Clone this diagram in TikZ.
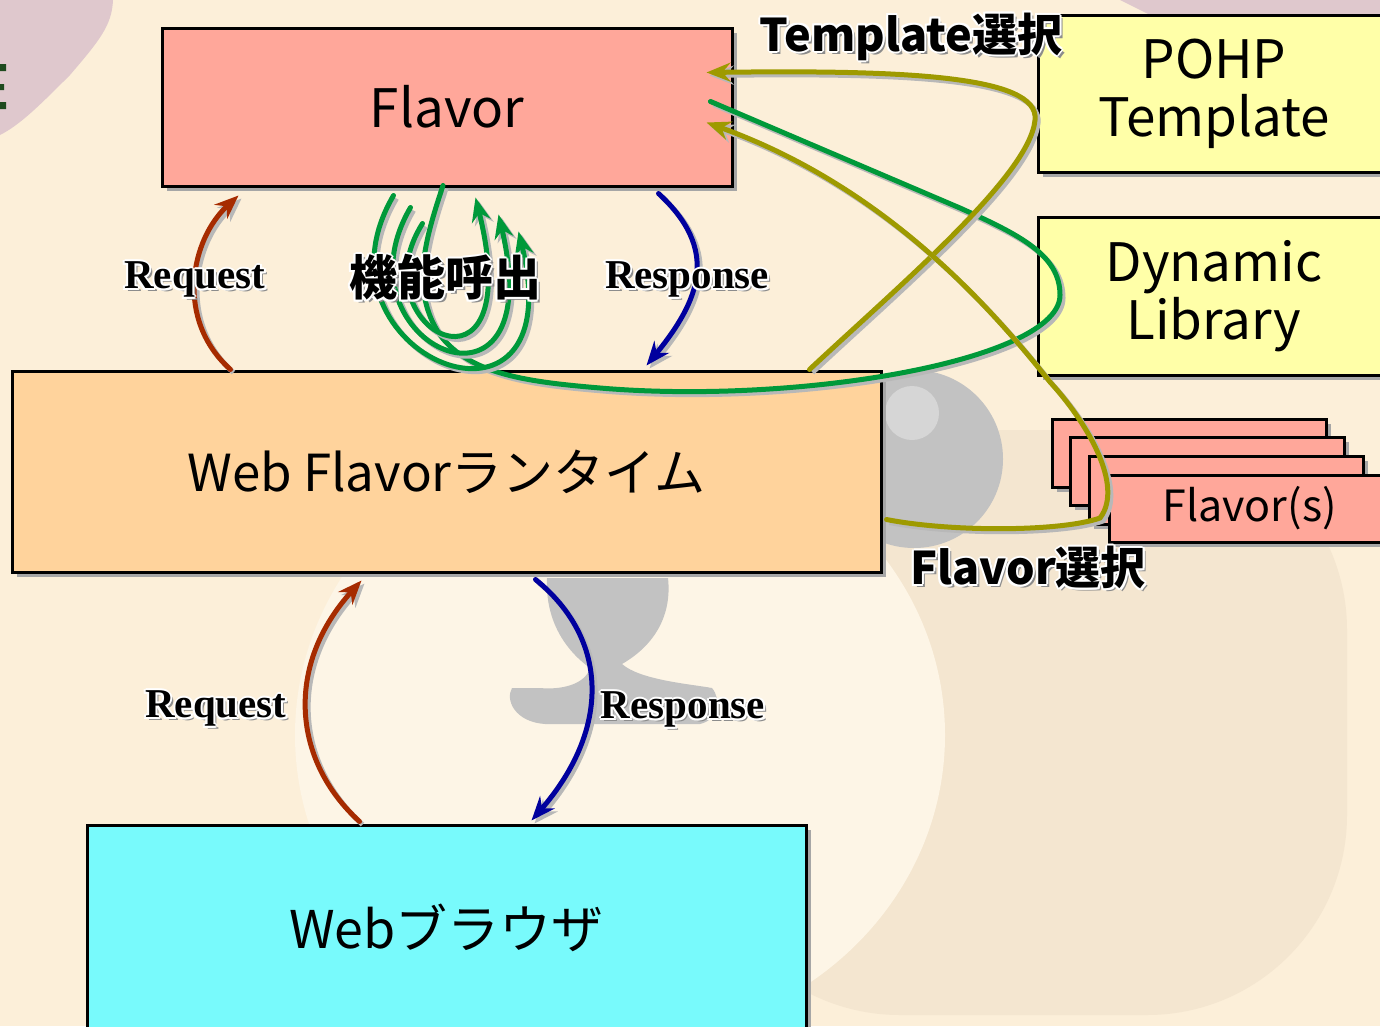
\documentclass[tikz,border=0pt]{standalone}
\usepackage{fontspec}
\usetikzlibrary{arrows.meta,shadows,calc}
\setmainfont{Liberation Serif}
\newfontfamily\jp{Noto Sans CJK JP}
\definecolor{bgc}{HTML}{FCEFD9}
\definecolor{bgdark}{HTML}{F4E6D0}
\definecolor{bglight}{HTML}{FDF5E6}
\definecolor{blob}{HTML}{DFC8CD}
\definecolor{egreen}{HTML}{1E4A1E}
\definecolor{sphere}{HTML}{C2C2C2}
\definecolor{sphhi}{HTML}{D6D6D6}
\definecolor{flv}{HTML}{FFA79A}
\definecolor{ylw}{HTML}{FFFFA8}
\definecolor{rtc}{HTML}{FFD39C}
\definecolor{cyn}{HTML}{78FAFC}
\definecolor{rqc}{HTML}{A62B00}
\definecolor{rsc}{HTML}{00009E}
\definecolor{grc}{HTML}{00993A}
\definecolor{olc}{HTML}{9E9A00}
\definecolor{shd}{HTML}{8C8C8C}
\newcommand\halo[1]{%
\rlap{\kern3pt\raisebox{-3pt}{\color{shd}#1}}%
\rlap{\kern-2pt\color{white}#1}%
\rlap{\kern2pt\color{white}#1}%
\rlap{\raisebox{2pt}{\color{white}#1}}%
\rlap{\raisebox{-2pt}{\color{white}#1}}%
\rlap{\kern1.5pt\raisebox{1.5pt}{\color{white}#1}}%
\rlap{\kern-1.5pt\raisebox{1.5pt}{\color{white}#1}}%
\rlap{\kern1.5pt\raisebox{-1.5pt}{\color{white}#1}}%
\rlap{\kern-1.5pt\raisebox{-1.5pt}{\color{white}#1}}%
#1}
\tikzset{
  blk/.style={draw=black, line width=3pt, inner sep=0pt, align=center,
    drop shadow={shadow xshift=5pt, shadow yshift=-5pt, fill=black!35, opacity=1},
    font=\jp\fontsize{53}{58}\selectfont},
  link/.style={line width=5pt, line cap=round,
    preaction={draw=black!28, line width=5pt, transform canvas={xshift=3pt,yshift=-3pt}}},
  arrowtip/.style={-{Stealth[length=24pt,width=19pt,inset=8pt]}},
  serlbl/.style={inner sep=0pt, font=\bfseries\fontsize{41}{48}\selectfont},
  jplbl/.style={inner sep=0pt, font=\jp\bfseries\fontsize{45}{52}\selectfont}
}
\begin{document}
\begin{tikzpicture}[x=1pt,y=-1pt]
\useasboundingbox (0,0) rectangle (1380,1026);
\clip (0,0) rectangle (1380,1026);
% background
\fill[bgc] (0,0) rectangle (1380,1026);
\fill[bgdark] (700,430) [rounded corners=200pt] -- (1347,430) -- (1347,1015) -- (700,1015) [sharp corners] -- cycle;
\fill[bglight] (620,735) ellipse[x radius=325, y radius=305];
\fill[blob] (0,0) -- (113,0) .. controls (112,25) and (100,40) .. (70,75) .. controls (40,105) and (20,125) .. (0,135) -- cycle;
\fill[blob] (1120,0) -- (1380,0) -- (1380,15) -- (1150,15) -- cycle;
\fill[egreen] (0,64) rectangle (6,71) (0,84) rectangle (4,90) (0,102) rectangle (6,109);
% sphere and stand
\fill[sphere] (914,459) circle[radius=89];
\fill[sphhi] (912,413) circle[radius=27];
\fill[sphere] (547,578) -- (668,578) .. controls (672,615) and (655,645) .. (622,664)
  .. controls (640,680) and (690,684) .. (712,688) .. controls (722,700) and (718,720) .. (700,724)
  -- (545,724) .. controls (515,722) and (505,700) .. (512,688) -- (540,688)
  .. controls (560,690) and (585,685) .. (590,668) .. controls (565,650) and (545,620) .. (547,578) -- cycle;
% boxes
\node[blk, fill=flv, minimum width=570pt, minimum height=158pt] (flavor) at (447,107) {Flavor};
\node[blk, fill=ylw, minimum width=352pt, minimum height=157pt] (pohp) at (1214,93.5) {POHP\\Template};
\node[blk, fill=ylw, minimum width=352pt, minimum height=158pt] (dynlib) at (1214,296) {Dynamic\\Library};
\node[blk, fill=rtc, minimum width=869pt, minimum height=201pt, font=\jp\fontsize{51}{58}\selectfont] (runtime) at (446.5,471.5) {Web Flavorランタイム};
\node[blk, fill=cyn, minimum width=719pt, minimum height=206pt, font=\jp\fontsize{52}{58}\selectfont] (browser) at (446.5,928) {Webブラウザ};
\node[blk, fill=flv, minimum width=274pt, minimum height=68pt] (fs1) at (1189,453) {};
\node[blk, fill=flv, minimum width=274pt, minimum height=68pt] (fs2) at (1207,471) {};
\node[blk, fill=flv, minimum width=274pt, minimum height=68pt] (fs3) at (1226,490) {};
\node[blk, fill=flv, minimum width=281pt, minimum height=67pt, font=\jp\fontsize{43}{50}\selectfont] (fs4) at (1249.5,508.5) {Flavor(s)};
% connector end points
\coordinate (rqA) at ($(runtime.north west)+(220,0)$);
\coordinate (rqB) at ($(flavor.south west)+(78,8)$);
\coordinate (rsA) at ($(flavor.south east)+(-75,6)$);
\coordinate (rsB) at ($(runtime.north west)+(636,-4)$);
\coordinate (rqC) at ($(browser.north west)+(274,-2)$);
\coordinate (rqD) at ($(runtime.south west)+(351,7)$);
\coordinate (rsC) at ($(runtime.south west)+(525,6)$);
\coordinate (rsD) at ($(browser.north west)+(446,-3)$);
\coordinate (olA) at ($(runtime.north east)+(-73,0)$);
\coordinate (olB) at ($(flavor.north east)+(-27,46)$);
\coordinate (olC) at ($(runtime.south east)+(4,-54)$);
\coordinate (olD) at ($(flavor.north east)+(-27,96)$);
\coordinate (grA) at ($(flavor.south)+(-4,-2)$);
\coordinate (grB) at ($(flavor.north east)+(-23,75)$);
\coordinate (lpA1) at ($(flavor.south west)+(233,8)$);
\coordinate (lpA2) at ($(flavor.south west)+(358,44)$);
\coordinate (lpB1) at ($(flavor.south west)+(250,20)$);
\coordinate (lpB2) at ($(flavor.south west)+(338,27)$);
\coordinate (lpC1) at ($(flavor.south west)+(262,36)$);
\coordinate (lpC2) at ($(flavor.south west)+(315,10)$);
% green big curve
\draw[link, grc] (grA) .. controls (425,240) and (410,290) .. (440,335)
  .. controls (470,375) and (530,382) .. (600,388)
  .. controls (800,405) and (1060,360) .. (1060,295)
  .. controls (1060,255) and (1020,235) .. (960,208) -- (grB);
% function call loops
\draw[link, grc, arrowtip] (lpA1) .. controls (300,355) and (575,465) .. (lpA2);
\draw[link, grc, arrowtip] (lpB1) .. controls (330,345) and (552,442) .. (lpB2);
\draw[link, grc, arrowtip] (lpC1) .. controls (355,330) and (530,418) .. (lpC2);
% request / response
\draw[link, rqc, arrowtip] (rqA) .. controls (175,320) and (190,240) .. (rqB);
\draw[link, rsc, arrowtip] (rsA) .. controls (720,250) and (700,300) .. (rsB);
\draw[link, rqc, arrowtip] (rqC) .. controls (292,760) and (285,665) .. (rqD);
\draw[link, rsc, arrowtip] (rsC) .. controls (610,640) and (610,730) .. (rsD);
% olive selections
\draw[link, olc, arrowtip] (olA) .. controls (900,285) and (1030,175) .. (1035,120)
  .. controls (1040,75) and (900,70) .. (olB);
\draw[link, olc, arrowtip] (olC) .. controls (950,532) and (1060,532) .. (1100,518)
  .. controls (1125,485) and (1085,420) .. (1050,382)
  .. controls (985,300) and (880,185) .. (olD);
% labels
\node[jplbl] (tmplsel) at (911,37) {\halo{Template選択}};
\node[jplbl] (flsel) at (1028,568) {\halo{Flavor選択}};
\node[serlbl] (req1) at (195,280) {\halo{Request}};
\node[jplbl, font=\jp\bfseries\fontsize{48}{52}\selectfont] (kino) at (445,278) {\halo{機能呼出}};
\node[serlbl] (resp1) at (687,280) {\halo{Response}};
\node[serlbl] (req2) at (216,709) {\halo{Request}};
\node[serlbl] (resp2) at (683,710) {\halo{Response}};
\end{tikzpicture}
\end{document}
